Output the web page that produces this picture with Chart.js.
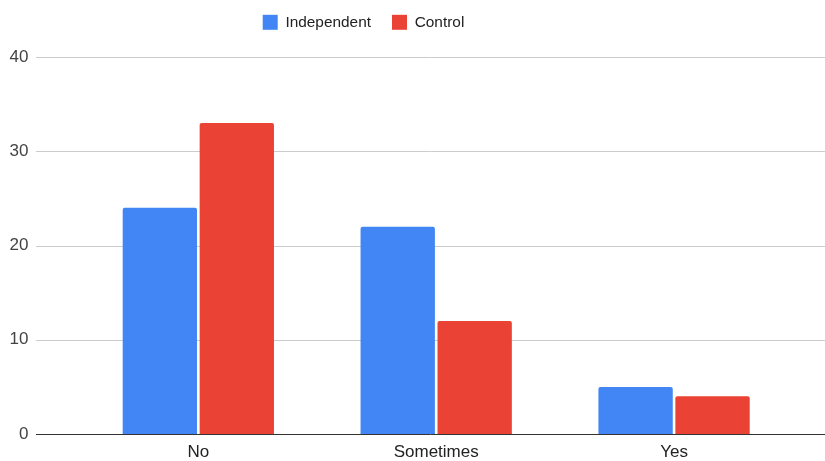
<!DOCTYPE html>
<html>
<head>
<meta charset="utf-8">
<script src="https://cdn.jsdelivr.net/npm/chart.js@4/dist/chart.umd.min.js"></script>
<style>
  html, body { margin: 0; padding: 0; background: #fff; overflow: hidden; }
  canvas { display: block; }
</style>
</head>
<body>
<canvas id="c" width="825" height="461"></canvas>
<script>
const categories = ['No', 'Sometimes', 'Yes'];
const independentValues = [24, 22, 5];
const controlValues = [33, 12, 4];
const seriesNames = ['Independent', 'Control'];
const yTicks = [0, 10, 20, 30, 40];

const FONT = "Arial, 'Liberation Sans', sans-serif";

// extended horizontal gridlines + baseline (drawn from the y scale)
function drawLine(chart, v, color) {
  const ctx = chart.ctx, y = chart.scales.y;
  const py = Math.round(y.getPixelForValue(v)) + 0.5;
  ctx.save();
  ctx.beginPath();
  ctx.moveTo(36, py);
  ctx.lineTo(chart.width, py);
  ctx.lineWidth = 1;
  ctx.strokeStyle = color;
  ctx.stroke();
  ctx.restore();
}
const gridPlugin = {
  id: 'extGrid',
  beforeDatasetsDraw(chart) {
    yTicks.forEach(v => { if (v !== 0) drawLine(chart, v, '#cccccc'); });
  },
  afterDatasetsDraw(chart) {
    drawLine(chart, 0, '#333333');
  }
};

// shift legend block to match reference placement
const legendShift = {
  id: 'legendShift',
  afterLayout(chart) {
    const l = chart.legend;
    if (!l) return;
    const dx = -33, dy = -17;
    l.left += dx; l.right += dx;
    l.top += dy; l.bottom += dy;
  }
};

new Chart(document.getElementById('c'), {
  type: 'bar',
  data: {
    labels: categories,
    datasets: [
      { label: seriesNames[0], data: independentValues, backgroundColor: '#4285F4' },
      { label: seriesNames[1], data: controlValues, backgroundColor: '#EA4335' }
    ]
  },
  options: {
    responsive: false,
    maintainAspectRatio: false,
    animation: false,
    devicePixelRatio: 1,
    categoryPercentage: 0.647,
    barPercentage: 0.966,
    borderRadius: 2,
    layout: { padding: { left: 0, right: 32, top: 10.6, bottom: 0 } },
    plugins: {
      legend: {
        position: 'top',
        align: 'center',
        labels: {
          boxWidth: 15, boxHeight: 15,
          padding: 21,
          color: '#222222',
          font: { family: FONT, size: 15.4 }
        }
      },
      tooltip: { enabled: false }
    },
    scales: {
      x: {
        grid: { display: false, drawTicks: false },
        border: { display: false },
        ticks: { color: '#222222', font: { family: FONT, size: 17 }, padding: 8 },
        afterFit(scale) { scale.height = 27; }
      },
      y: {
        min: 0, max: 40,
        grid: { display: false, drawTicks: false },
        border: { display: false },
        ticks: {
          stepSize: 10,
          color: '#444444',
          font: { family: FONT, size: 17 },
          padding: 51
        },
        afterFit(scale) {
          scale.width = 79.4;
          scale.paddingTop = 10;
          scale.paddingBottom = 10;
        }
      }
    }
  },
  plugins: [gridPlugin, legendShift]
});
</script>
</body>
</html>
